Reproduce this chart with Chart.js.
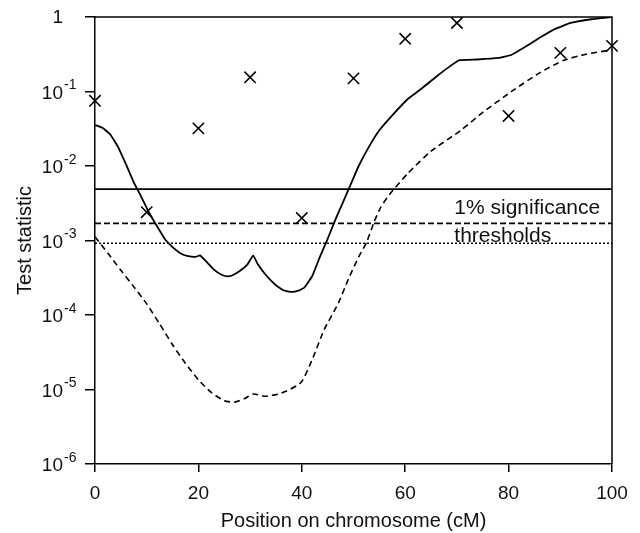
<!DOCTYPE html>
<html>
<head>
<meta charset="utf-8">
<script src="https://cdn.jsdelivr.net/npm/chart.js@4/dist/chart.umd.min.js"></script>
<style>
  html, body { margin: 0; padding: 0; background: #fff; }
  #wrap { width: 640px; height: 533px; position: relative; }
</style>
</head>
<body>
<div id="wrap"><canvas id="chart"></canvas></div>
<script>
// position on chromosome (cM) for the solid curve
const solidPositions = [0, 1.5, 3, 4.5, 6, 7.5, 9, 10.5, 12, 13.5, 15, 16.5, 18, 19.5, 20.3, 21.5, 23, 24.5, 25.5, 26.5, 28, 29.5, 30.6, 31.5, 33, 35, 36.5, 38, 39.5, 40.5, 42, 43.5, 45, 46.5, 48, 49.5, 51, 53, 55, 57.5, 60.5, 63, 66, 68.5, 70.5, 74, 78, 80.5, 83, 86, 89, 92, 96, 100];
const solidValues = [0.0355, 0.0324, 0.0263, 0.0178, 0.0105, 0.00603, 0.0038, 0.00234, 0.00155, 0.00105, 0.000813, 0.000676, 0.000617, 0.000603, 0.000631, 0.000525, 0.000407, 0.000347, 0.000331, 0.000339, 0.000389, 0.000479, 0.000631, 0.000479, 0.000347, 0.000251, 0.000214, 0.000204, 0.000214, 0.000234, 0.000331, 0.000603, 0.00105, 0.00191, 0.00331, 0.00575, 0.01, 0.0182, 0.0302, 0.0479, 0.0794, 0.107, 0.158, 0.214, 0.263, 0.269, 0.282, 0.309, 0.389, 0.525, 0.692, 0.832, 0.933, 1.0];

// dashed curve
const dashedPositions = [0, 2.5, 5, 7.5, 10, 12.5, 15, 17.5, 20, 22.5, 25, 27, 29, 30.6, 33, 36, 39.8, 42, 44.3, 47, 49, 51, 52.5, 54, 55.3, 57, 60.5, 65, 70.8, 75, 81, 86, 90.7, 95, 100];
const dashedValues = [0.00112, 0.000676, 0.000398, 0.00024, 0.000141, 7.59e-5, 3.98e-5, 2.24e-5, 1.35e-5, 9.12e-6, 7.08e-6, 6.76e-6, 7.59e-6, 8.71e-6, 8.13e-6, 8.91e-6, 1.23e-5, 2.51e-5, 6.31e-5, 1.41e-4, 3.02e-4, 6.03e-4, 9.33e-4, 1.78e-3, 2.82e-3, 4.17e-3, 7.94e-3, 0.0158, 0.0302, 0.0525, 0.105, 0.178, 0.263, 0.316, 0.363];

// single-marker results (crosses)
const markerPositions = [0, 10, 20, 30, 40, 50, 60, 70, 80, 90, 100];
const markerValues = [0.075, 0.0024, 0.032, 0.155, 0.0020, 0.15, 0.51, 0.83, 0.047, 0.33, 0.41];

// 1% significance thresholds
const thresholdSolid = 0.0049;
const thresholdDashed = 0.0017;
const thresholdDotted = 0.00092;

const xTicks = [0, 20, 40, 60, 80, 100];
const yTickExponents = [-6, -5, -4, -3, -2, -1, 0];
const annotationLines = ["1% significance", "thresholds"];
const annotationX = 69.5;
const annotationY = [0.0027, 0.00115];

const FONT = "'Liberation Sans', Arial, Helvetica, sans-serif";

function pts(xs, ys) {
  return xs.map((x, i) => ({ x: x, y: ys[i] }));
}

function flat(v) {
  return [{ x: 0, y: v }, { x: 100, y: v }];
}

const framePlugin = {
  id: "frame",
  afterDatasetsDraw(chart) {
    const { ctx, chartArea: a, scales } = chart;
    ctx.save();
    ctx.strokeStyle = "#000";
    ctx.lineWidth = 1.5;
    ctx.beginPath();
    ctx.moveTo(a.left, a.top);
    ctx.lineTo(a.right, a.top);
    ctx.lineTo(a.right, a.bottom);
    ctx.stroke();

    // annotation text
    ctx.fillStyle = "#111";
    ctx.font = "21px " + FONT;
    ctx.textAlign = "left";
    ctx.textBaseline = "middle";
    annotationLines.forEach((t, i) => {
      ctx.fillText(t, scales.x.getPixelForValue(annotationX), scales.y.getPixelForValue(annotationY[i]));
    });

    // y tick labels with superscript exponents
    const right = 63;
    yTickExponents.forEach(e => {
      const py = scales.y.getPixelForValue(Math.pow(10, e));
      ctx.textBaseline = "middle";
      ctx.textAlign = "right";
      ctx.font = "19px " + FONT;
      if (e === 0) {
        ctx.fillText("1", right, py + 1);
      } else {
        ctx.fillText("10", right, py + 2);
        ctx.textAlign = "left";
        ctx.font = "14px " + FONT;
        ctx.fillText("-" + Math.abs(e), right + 1, py - 6);
      }
    });
    ctx.restore();
  }
};

new Chart(document.getElementById("chart"), {
  type: "scatter",
  data: {
    datasets: [
      {
        type: "line",
        data: pts(solidPositions, solidValues),
        borderColor: "#000",
        borderWidth: 1.8,
        pointRadius: 0,
        tension: 0.1
      },
      {
        type: "line",
        data: pts(dashedPositions, dashedValues),
        borderColor: "#000",
        borderWidth: 1.6,
        borderDash: [6, 4],
        pointRadius: 0,
        tension: 0.2
      },
      {
        type: "line",
        data: flat(thresholdSolid),
        borderColor: "#000",
        borderWidth: 1.6,
        pointRadius: 0
      },
      {
        type: "line",
        data: flat(thresholdDashed),
        borderColor: "#000",
        borderWidth: 1.6,
        borderDash: [6, 3],
        pointRadius: 0
      },
      {
        type: "line",
        data: flat(thresholdDotted),
        borderColor: "#000",
        borderWidth: 1.6,
        borderDash: [2, 2],
        pointRadius: 0
      },
      {
        data: pts(markerPositions, markerValues),
        pointStyle: "crossRot",
        pointRadius: 8,
        pointBorderWidth: 1.6,
        borderColor: "#000",
        backgroundColor: "#000",
        clip: false
      }
    ]
  },
  options: {
    responsive: true,
    maintainAspectRatio: false,
    animation: false,
    layout: { padding: { top: 17, right: 28, left: 0, bottom: 0 } },
    plugins: {
      legend: { display: false },
      tooltip: { enabled: false }
    },
    scales: {
      x: {
        type: "linear",
        min: 0,
        max: 100,
        afterBuildTicks: s => { s.ticks = xTicks.map(v => ({ value: v })); },
        afterFit: s => { s.height = 69; },
        border: { display: true, color: "#000", width: 1.5 },
        grid: { drawOnChartArea: false, color: "#000", tickLength: 8, lineWidth: 1.5 },
        ticks: { color: "#111", font: { family: FONT, size: 19 }, padding: 10, maxRotation: 0 },
        title: {
          display: true,
          text: "Position on chromosome (cM)",
          color: "#111",
          font: { family: FONT, size: 20 },
          padding: { top: 0, bottom: 0 }
        }
      },
      y: {
        type: "logarithmic",
        min: 1e-6,
        max: 1,
        afterBuildTicks: s => { s.ticks = yTickExponents.map(e => ({ value: Math.pow(10, e), major: true })); },
        afterFit: s => { s.width = 95; },
        border: { display: true, color: "#000", width: 1.5 },
        grid: { drawOnChartArea: false, color: "#000", tickLength: 10, lineWidth: 1.5 },
        ticks: { callback: () => "", padding: 0 },
        title: {
          display: true,
          text: "Test statistic",
          color: "#111",
          font: { family: FONT, size: 20 },
          padding: { top: 13, bottom: 0 }
        }
      }
    }
  },
  plugins: [framePlugin]
});
</script>
</body>
</html>
